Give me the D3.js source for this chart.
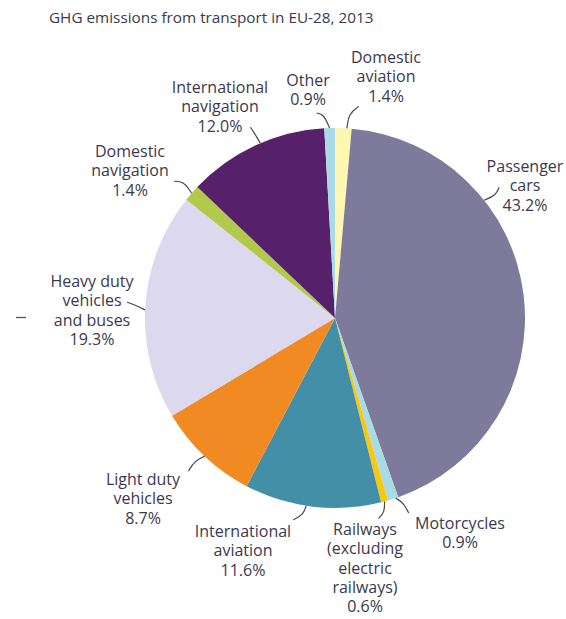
<!DOCTYPE html>
<html>
<head>
<meta charset="utf-8">
<script src="https://cdn.jsdelivr.net/npm/d3@7"></script>
<style>
  html, body { margin: 0; padding: 0; background: #fff; }
  svg { display: block; }
</style>
</head>
<body>
<svg id="chart" width="566" height="619"></svg>
<script>
// data (clockwise from 12 o'clock)
const categories = ['Domestic aviation', 'Passenger cars', 'Motorcycles', 'Railways',
  'International aviation', 'Light duty vehicles', 'Heavy duty vehicles and buses',
  'Domestic navigation', 'International navigation', 'Other'];
const shares = [1.4, 43.2, 0.9, 0.6, 11.6, 8.7, 19.3, 1.4, 12.0, 0.9];
const labelLines = [
  ['Domestic', 'aviation'],
  ['Passenger', 'cars'],
  ['Motorcycles'],
  ['Railways', '(excluding', 'electric', 'railways)'],
  ['International', 'aviation'],
  ['Light duty', 'vehicles'],
  ['Heavy duty', 'vehicles', 'and buses'],
  ['Domestic', 'navigation'],
  ['International', 'navigation'],
  ['Other']
];
const colors = ['#fdf7b2', '#7d7a9c', '#a9dbe6', '#f7c812', '#438fa7',
  '#f28a24', '#dcd8ee', '#b2c94b', '#56206a', '#a9dbe6'];

// layout of labels: centre x, first baseline, where the leader meets the slice
// (fraction of the slice angle) and the two leader points relative to that
const labelLayout = [
  { x: 386, y: 63, t: 0.71, lead: [[2, -15], [12, -22]] },
  { x: 525, y: 172, t: 0.30, lead: [[12, -5], [15, -13]] },
  { x: 460, y: 529, t: 0.25, lead: [[8, 5], [13, 15]] },
  { x: 365, y: 535, t: 0.5, lead: [[0, 11], [-6, 17]] },
  { x: 243, y: 537, t: 0.545, lead: [[-3, 9], [-13, 14]] },
  { x: 143, y: 485, t: 0.5, lead: [[-10, 5], [-16, 15]] },
  { x: 92, y: 287, t: 0.48, lead: [[-8, -4], [-18, -8]] },
  { x: 130, y: 157, t: 0.5, lead: [[-8, -12], [-18, -12]] },
  { x: 220, y: 93, t: 0.54, lead: [[-6, -10], [-10, -16]] },
  { x: 308, y: 86, t: 0.5, lead: [[-6, -14], [-13, -15]] }
];

const cx = 335, cy = 318, R = 190;
const lineH = 19.3;
const textColor = '#3b3850';
const fmt = d3.format('.1f');

const svg = d3.select('#chart');

svg.append('text')
  .attr('x', 49)
  .attr('y', 23)
  .attr('font-family', '"Open Sans", sans-serif')
  .attr('font-size', 15.3)
  .attr('fill', '#3a3a48')
  .text('GHG emissions from transport in EU-28, 2013');

// stray dash at the left edge of the source figure
svg.append('line')
  .attr('x1', 16).attr('x2', 26)
  .attr('y1', 317.5).attr('y2', 317.5)
  .attr('stroke', '#555')
  .attr('stroke-width', 1.3);

const pie = d3.pie().sort(null).value((d) => d)(shares);
const arc = d3.arc().innerRadius(0).outerRadius(R);

const g = svg.append('g').attr('transform', `translate(${cx},${cy})`);

g.selectAll('path.slice')
  .data(pie)
  .enter()
  .append('path')
  .attr('class', 'slice')
  .attr('d', arc)
  .attr('fill', (d, i) => colors[i]);

// leader lines
const line = d3.line().curve(d3.curveBasis);
g.selectAll('path.leader')
  .data(pie)
  .enter()
  .append('path')
  .attr('class', 'leader')
  .attr('d', (d, i) => {
    const L = labelLayout[i];
    const a = d.startAngle + L.t * (d.endAngle - d.startAngle);
    const p0 = [R * Math.sin(a), -R * Math.cos(a)];
    const p1 = [p0[0] + L.lead[0][0], p0[1] + L.lead[0][1]];
    const p2 = [p0[0] + L.lead[1][0], p0[1] + L.lead[1][1]];
    return line([p0, p0, p1, p2, p2]);
  })
  .attr('fill', 'none')
  .attr('stroke', '#4a4a4a')
  .attr('stroke-width', 1.2);

// labels
const labels = svg.selectAll('text.label')
  .data(pie)
  .enter()
  .append('text')
  .attr('class', 'label')
  .attr('font-family', '"Open Sans", sans-serif')
  .attr('font-size', 16)
  .attr('fill', textColor)
  .attr('text-anchor', 'middle');

labels.each(function (d, i) {
  const L = labelLayout[i];
  const lines = labelLines[i].concat([fmt(d.data) + '%']);
  d3.select(this)
    .selectAll('tspan')
    .data(lines)
    .enter()
    .append('tspan')
    .attr('x', L.x)
    .attr('y', (s, j) => L.y + j * lineH)
    .text((s) => s);
});
</script>
</body>
</html>
